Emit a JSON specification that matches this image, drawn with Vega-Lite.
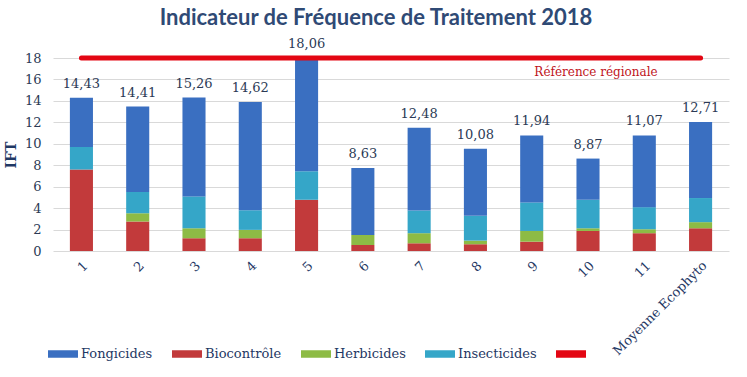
{
  "$schema": "https://vega.github.io/schema/vega-lite/v6.json",
  "width": 676,
  "height": 193,
  "autosize": {"type": "none"},
  "padding": {"left": 53, "top": 58, "right": 18, "bottom": 126},
  "background": "white",
  "config": {
    "view": {"stroke": null},
    "axisY": {
      "titleFont": "DejaVu Serif", "titleFontWeight": "bold", "titleFontSize": 14,
      "titleColor": "#1F3864", "titlePadding": 6, "labelOverlap": false, "labelFlush": false,
      "labelFont": "DejaVu Serif", "labelFontSize": 13, "labelColor": "#2B3A55",
      "ticks": false, "domain": false, "labelPadding": 12, "gridColor": "#D9D9D9", "gridWidth": 1.2
    }
  },
  "title": {
    "text": "Indicateur de Fréquence de Traitement 2018",
    "font": "Lato", "fontSize": 22, "fontWeight": "bold", "color": "#2F4A75",
    "offset": 8, "anchor": "middle", "dx": -15
  },
  "datasets": {
    "segments": [
      {"cat": "1", "type": "Biocontrôle", "value": 7.6},
      {"cat": "1", "type": "Herbicides", "value": 0},
      {"cat": "1", "type": "Insecticides", "value": 2.1},
      {"cat": "1", "type": "Fongicides", "value": 4.6},
      {"cat": "2", "type": "Biocontrôle", "value": 2.75},
      {"cat": "2", "type": "Herbicides", "value": 0.78},
      {"cat": "2", "type": "Insecticides", "value": 1.97},
      {"cat": "2", "type": "Fongicides", "value": 7.97},
      {"cat": "3", "type": "Biocontrôle", "value": 1.19},
      {"cat": "3", "type": "Herbicides", "value": 0.93},
      {"cat": "3", "type": "Insecticides", "value": 2.97},
      {"cat": "3", "type": "Fongicides", "value": 9.22},
      {"cat": "4", "type": "Biocontrôle", "value": 1.19},
      {"cat": "4", "type": "Herbicides", "value": 0.78},
      {"cat": "4", "type": "Insecticides", "value": 1.83},
      {"cat": "4", "type": "Fongicides", "value": 10.1},
      {"cat": "5", "type": "Biocontrôle", "value": 4.78},
      {"cat": "5", "type": "Herbicides", "value": 0},
      {"cat": "5", "type": "Insecticides", "value": 2.65},
      {"cat": "5", "type": "Fongicides", "value": 10.57},
      {"cat": "6", "type": "Biocontrôle", "value": 0.56},
      {"cat": "6", "type": "Herbicides", "value": 0.94},
      {"cat": "6", "type": "Insecticides", "value": 0},
      {"cat": "6", "type": "Fongicides", "value": 6.25},
      {"cat": "7", "type": "Biocontrôle", "value": 0.72},
      {"cat": "7", "type": "Herbicides", "value": 0.94},
      {"cat": "7", "type": "Insecticides", "value": 2.12},
      {"cat": "7", "type": "Fongicides", "value": 7.72},
      {"cat": "8", "type": "Biocontrôle", "value": 0.63},
      {"cat": "8", "type": "Herbicides", "value": 0.34},
      {"cat": "8", "type": "Insecticides", "value": 2.31},
      {"cat": "8", "type": "Fongicides", "value": 6.25},
      {"cat": "9", "type": "Biocontrôle", "value": 0.87},
      {"cat": "9", "type": "Herbicides", "value": 1.0},
      {"cat": "9", "type": "Insecticides", "value": 2.66},
      {"cat": "9", "type": "Fongicides", "value": 6.25},
      {"cat": "10", "type": "Biocontrôle", "value": 1.87},
      {"cat": "10", "type": "Herbicides", "value": 0.25},
      {"cat": "10", "type": "Insecticides", "value": 2.66},
      {"cat": "10", "type": "Fongicides", "value": 3.84},
      {"cat": "11", "type": "Biocontrôle", "value": 1.66},
      {"cat": "11", "type": "Herbicides", "value": 0.37},
      {"cat": "11", "type": "Insecticides", "value": 2.06},
      {"cat": "11", "type": "Fongicides", "value": 6.69},
      {"cat": "Moyenne Ecophyto", "type": "Biocontrôle", "value": 2.12},
      {"cat": "Moyenne Ecophyto", "type": "Herbicides", "value": 0.57},
      {"cat": "Moyenne Ecophyto", "type": "Insecticides", "value": 2.25},
      {"cat": "Moyenne Ecophyto", "type": "Fongicides", "value": 7.09}
    ],
    "labels": [
      {"cat": "1", "label": "14,43"},
      {"cat": "2", "label": "14,41"},
      {"cat": "3", "label": "15,26"},
      {"cat": "4", "label": "14,62"},
      {"cat": "5", "label": "18,06"},
      {"cat": "6", "label": "8,63"},
      {"cat": "7", "label": "12,48"},
      {"cat": "8", "label": "10,08"},
      {"cat": "9", "label": "11,94"},
      {"cat": "10", "label": "8,87"},
      {"cat": "11", "label": "11,07"},
      {"cat": "Moyenne Ecophyto", "label": "12,71"}
    ],
    "reference": [
      {"from": "1", "to": "Moyenne Ecophyto", "anchor": "10", "y": 18, "name": "Référence régionale"}
    ]
  },
  "layer": [
    {
      "data": {"name": "segments"},
      "transform": [
        {"calculate": "indexof(['Biocontrôle','Herbicides','Insecticides','Fongicides'], datum.type)", "as": "ord"}
      ],
      "mark": {"type": "bar"},
      "encoding": {
        "x": {
          "field": "cat", "type": "nominal", "sort": null,
          "scale": {"domain": ["1","2","3","4","5","6","7","8","9","10","11","Moyenne Ecophyto"], "paddingInner": 0.59, "paddingOuter": 0.3},
          "axis": {
            "title": null, "labelAngle": -45, "labelFont": "DejaVu Serif", "labelFontSize": 13,
            "labelColor": "#1F3864", "ticks": false, "domain": false, "labelPadding": 8, "grid": false
          }
        },
        "y": {
          "field": "value", "type": "quantitative", "aggregate": "sum", "stack": "zero",
          "scale": {"domain": [0, 18], "nice": false},
          "axis": {"title": "IFT", "values": [0,2,4,6,8,10,12,14,16,18], "tickCount": 10}
        },
        "color": {
          "field": "type", "type": "nominal",
          "scale": {
            "domain": ["Fongicides", "Biocontrôle", "Herbicides", "Insecticides", " "],
            "range": ["#3A6FC1", "#C23A3B", "#8DBB45", "#35A6C8", "#E30613"]
          },
          "legend": {
            "title": null, "orient": "none", "legendX": -5, "legendY": 281, "direction": "horizontal",
            "symbolType": "M-1,-0.25H1V0.25H-1Z", "symbolSize": 900, "symbolStrokeWidth": 0,
            "labelFont": "DejaVu Serif", "labelFontSize": 13, "labelColor": "#1F3864",
            "columnPadding": 19, "labelOffset": 3
          }
        },
        "order": {"field": "ord", "type": "quantitative"}
      }
    },
    {
      "data": {"name": "segments"},
      "transform": [
        {"aggregate": [{"op": "sum", "field": "value", "as": "top"}], "groupby": ["cat"]},
        {"lookup": "cat", "from": {"data": {"name": "labels"}, "key": "cat", "fields": ["label"]}}
      ],
      "mark": {"type": "text", "baseline": "bottom", "dy": -7, "font": "DejaVu Serif", "fontSize": 13, "color": "#2B3A55"},
      "encoding": {
        "x": {"field": "cat", "type": "nominal", "sort": null},
        "y": {"field": "top", "type": "quantitative", "axis": {"title": "IFT", "values": [0,2,4,6,8,10,12,14,16,18], "tickCount": 10}},
        "text": {"field": "label"}
      }
    },
    {
      "data": {"name": "reference"},
      "mark": {"type": "rule", "color": "#E30613", "strokeWidth": 5, "strokeCap": "round"},
      "encoding": {
        "x": {"field": "from", "type": "nominal", "sort": null},
        "x2": {"field": "to"},
        "y": {"field": "y", "type": "quantitative", "axis": {"title": "IFT", "values": [0,2,4,6,8,10,12,14,16,18], "tickCount": 10}}
      }
    },
    {
      "data": {"name": "reference"},
      "mark": {"type": "text", "baseline": "middle", "dy": 14, "dx": 8, "font": "DejaVu Serif", "fontSize": 12, "color": "#C0141C"},
      "encoding": {
        "x": {"field": "anchor", "type": "nominal", "sort": null},
        "y": {"field": "y", "type": "quantitative", "axis": {"title": "IFT", "values": [0,2,4,6,8,10,12,14,16,18], "tickCount": 10}},
        "text": {"field": "name"}
      }
    }
  ]
}
